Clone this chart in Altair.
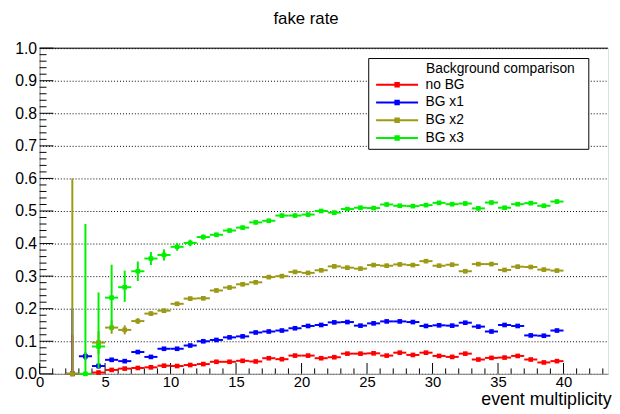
import altair as alt
import pandas as pd

# ---------------- data ----------------
bin_centers = [2.5, 3.5, 4.5, 5.5, 6.5, 7.5, 8.5, 9.5, 10.5, 11.5, 12.5, 13.5, 14.5,
               15.5, 16.5, 17.5, 18.5, 19.5, 20.5, 21.5, 22.5, 23.5, 24.5, 25.5, 26.5,
               27.5, 28.5, 29.5, 30.5, 31.5, 32.5, 33.5, 34.5, 35.5, 36.5, 37.5, 38.5, 39.5]

series_names = ["no BG", "BG x1", "BG x2", "BG x3"]
series_colors = ["#ff0000", "#0000ff", "#9c9a14", "#00f000"]

no_bg = [0.0, None, 0.004, 0.012, 0.016, 0.018, 0.020, 0.025, 0.024, 0.027, 0.030, 0.037, 0.037,
         0.040, 0.038, 0.048, 0.045, 0.056, 0.056, 0.048, 0.051, 0.062, 0.062, 0.063, 0.056,
         0.065, 0.058, 0.065, 0.055, 0.052, 0.062, 0.044, 0.049, 0.050, 0.055, 0.044, 0.035, 0.039]
no_bg_up = [0.12, 0, 0.006, 0.005, 0.004, 0.004, 0.004, 0.004, 0.004, 0.004, 0.004, 0.004, 0.004,
            0.004, 0.004, 0.004, 0.004, 0.004, 0.004, 0.004, 0.004, 0.004, 0.004, 0.004, 0.004,
            0.004, 0.004, 0.004, 0.004, 0.004, 0.004, 0.004, 0.004, 0.004, 0.004, 0.004, 0.004, 0.004]
no_bg_dn = [0.0, 0, 0.004, 0.005, 0.004, 0.004, 0.004, 0.004, 0.004, 0.004, 0.004, 0.004, 0.004,
            0.004, 0.004, 0.004, 0.004, 0.004, 0.004, 0.004, 0.004, 0.004, 0.004, 0.004, 0.004,
            0.004, 0.004, 0.004, 0.004, 0.004, 0.004, 0.004, 0.004, 0.004, 0.004, 0.004, 0.004, 0.004]

bg_x1 = [0.0, 0.054, 0.024, 0.043, 0.039, 0.067, 0.052, 0.077, 0.077, 0.087, 0.100, 0.104, 0.112,
         0.115, 0.127, 0.130, 0.133, 0.140, 0.147, 0.150, 0.158, 0.159, 0.148, 0.155, 0.161,
         0.161, 0.159, 0.147, 0.149, 0.148, 0.157, 0.145, 0.130, 0.150, 0.147, 0.118, 0.117, 0.133]
bg_x1_up = [0.20, 0.012, 0.008, 0.006, 0.006, 0.005, 0.005, 0.005, 0.005, 0.005, 0.005, 0.005, 0.005,
            0.005, 0.005, 0.005, 0.005, 0.005, 0.005, 0.005, 0.005, 0.005, 0.005, 0.005, 0.005,
            0.005, 0.005, 0.005, 0.005, 0.005, 0.005, 0.005, 0.005, 0.005, 0.005, 0.005, 0.005, 0.005]
bg_x1_dn = [0.0, 0.012, 0.008, 0.006, 0.006, 0.005, 0.005, 0.005, 0.005, 0.005, 0.005, 0.005, 0.005,
            0.005, 0.005, 0.005, 0.005, 0.005, 0.005, 0.005, 0.005, 0.005, 0.005, 0.005, 0.005,
            0.005, 0.005, 0.005, 0.005, 0.005, 0.005, 0.005, 0.005, 0.005, 0.005, 0.005, 0.005, 0.005]

bg_x2 = [0.0, None, 0.096, 0.142, 0.135, 0.162, 0.185, 0.194, 0.215, 0.231, 0.232, 0.256, 0.265,
         0.275, 0.281, 0.297, 0.300, 0.313, 0.310, 0.318, 0.330, 0.326, 0.323, 0.334, 0.332,
         0.336, 0.334, 0.346, 0.332, 0.335, 0.315, 0.337, 0.337, 0.319, 0.329, 0.328, 0.320, 0.317]
bg_x2_up = [0.60, 0, 0.035, 0.022, 0.014, 0.009, 0.007, 0.006, 0.006, 0.006, 0.006, 0.006, 0.006,
            0.006, 0.006, 0.006, 0.006, 0.006, 0.006, 0.006, 0.006, 0.006, 0.006, 0.006, 0.006,
            0.006, 0.006, 0.006, 0.006, 0.006, 0.006, 0.006, 0.006, 0.006, 0.006, 0.006, 0.006, 0.006]
bg_x2_dn = [0.0, 0, 0.035, 0.019, 0.014, 0.009, 0.007, 0.006, 0.006, 0.006, 0.006, 0.006, 0.006,
            0.006, 0.006, 0.006, 0.006, 0.006, 0.006, 0.006, 0.006, 0.006, 0.006, 0.006, 0.006,
            0.006, 0.006, 0.006, 0.006, 0.006, 0.006, 0.006, 0.006, 0.006, 0.006, 0.006, 0.006, 0.006]

bg_x3 = [None, 0.0, 0.084, 0.234, 0.266, 0.315, 0.354, 0.365, 0.390, 0.402, 0.420, 0.427, 0.440,
         0.449, 0.465, 0.470, 0.486, 0.486, 0.489, 0.500, 0.495, 0.506, 0.510, 0.509, 0.520,
         0.516, 0.515, 0.518, 0.525, 0.521, 0.523, 0.508, 0.526, 0.510, 0.521, 0.524, 0.516, 0.529]
bg_x3_up = [0, 0.46, 0.166, 0.101, 0.051, 0.030, 0.020, 0.017, 0.012, 0.010, 0.008, 0.006, 0.006,
            0.006, 0.006, 0.006, 0.006, 0.006, 0.006, 0.006, 0.006, 0.006, 0.006, 0.006, 0.006,
            0.006, 0.006, 0.006, 0.006, 0.006, 0.006, 0.006, 0.006, 0.006, 0.006, 0.006, 0.006, 0.006]
bg_x3_dn = [0, 0.0, 0.067, 0.101, 0.045, 0.030, 0.020, 0.017, 0.012, 0.010, 0.008, 0.006, 0.006,
            0.006, 0.006, 0.006, 0.006, 0.006, 0.006, 0.006, 0.006, 0.006, 0.006, 0.006, 0.006,
            0.006, 0.006, 0.006, 0.006, 0.006, 0.006, 0.006, 0.006, 0.006, 0.006, 0.006, 0.006, 0.006]

x_tick_labels = [0, 5, 10, 15, 20, 25, 30, 35, 40]
y_tick_labels = [0.0, 0.1, 0.2, 0.3, 0.4, 0.5, 0.6, 0.7, 0.8, 0.9, 1.0]

# ---------------- layout / style ----------------
W, H = 576, 330
X_MAX = 43.4
FONT = "Liberation Sans"
BIN_HALF = 0.5

xscale = alt.Scale(domain=[0, X_MAX], nice=False, zero=False)
yscale = alt.Scale(domain=[0, 1], nice=False, zero=False)

xaxis = alt.Axis(values=x_tick_labels, ticks=False, grid=False, labelPadding=1,
                 labelFontSize=15, title="event multiplicity", titleFontSize=18,
                 titleFontWeight="normal", titleAnchor="end", titleAlign="right",
                 titleX=W + 3, titleY=31, titleBaseline="alphabetic", labelFlush=False)
yaxis = alt.Axis(values=y_tick_labels, format=".1f", ticks=False, grid=True,
                 gridDash=[1, 2], gridColor="#000000", gridWidth=1, labelPadding=3,
                 labelFontSize=16, title=None)

all_series = [
    (no_bg, no_bg_up, no_bg_dn),
    (bg_x1, bg_x1_up, bg_x1_dn),
    (bg_x2, bg_x2_up, bg_x2_dn),
    (bg_x3, bg_x3_up, bg_x3_dn),
]

legend_path = ("M-1,-0.2L7.5,-0.2L7.5,0.2L-1,0.2Z "
               "M2.7,-0.55L3.8,-0.55L3.8,0.55L2.7,0.55Z")

BLANK = "\u2800"
color = alt.Color("series:N",
                  scale=alt.Scale(domain=series_names, range=series_colors),
                  legend=alt.Legend(orient="none", legendX=333, legendY=10,
                                    title=BLANK * 5 + "\u00a0Background comparison" + BLANK * 1,
                                    titleFontSize=14, titleFont=FONT, titleFontWeight="normal",
                                    titleColor="black", titlePadding=2, titleLimit=400,
                                    labelFontSize=14, labelFont=FONT, labelColor="black",
                                    labelOffset=38, symbolType=legend_path, symbolSize=100,
                                    symbolOffset=2,
                                    symbolStrokeWidth=0, symbolOpacity=1, rowPadding=4,
                                    fillColor="white", strokeColor="black", padding=4,
                                    cornerRadius=0))

layers = []

# axis tick marks drawn inward (ROOT style)
y_major = pd.DataFrame({"v": y_tick_labels})
y_minor = pd.DataFrame({"v": [round(i * 0.02, 2) for i in range(1, 50) if i % 5 != 0]})
x_major = pd.DataFrame({"v": x_tick_labels})
x_minor = pd.DataFrame({"v": [i for i in range(1, 44) if i % 5 != 0]})

def yt(df, length):
    return alt.Chart(df).mark_rule(color="black", strokeWidth=1).encode(
        y=alt.Y("v:Q", scale=yscale, axis=yaxis),
        x=alt.X(datum=0, scale=xscale, axis=xaxis),
        x2=alt.X2(datum=length),
    )

def xt(df, length):
    return alt.Chart(df).mark_rule(color="black", strokeWidth=1).encode(
        x=alt.X("v:Q", scale=xscale, axis=xaxis),
        y=alt.Y(datum=0, scale=yscale, axis=yaxis),
        y2=alt.Y2(datum=length),
    )

layers += [yt(y_major, 14 / W * X_MAX), yt(y_minor, 7 / W * X_MAX),
           xt(x_major, 11 / H), xt(x_minor, 5.5 / H)]

# top frame line
layers.append(alt.Chart(pd.DataFrame({"v": [1.0]})).mark_rule(color="black", strokeWidth=1).encode(
    y=alt.Y("v:Q", scale=yscale, axis=yaxis)))

for name, col, (vals, ups, dns) in zip(series_names, series_colors, all_series):
    rows = []
    for c, v, u, d in zip(bin_centers, vals, ups, dns):
        if v is None:
            continue
        rows.append({"series": name, "x": c, "xlo": c - BIN_HALF, "xhi": c + BIN_HALF,
                     "value": v, "lo": v - d, "hi": v + u})
    df = pd.DataFrame(rows)
    base = alt.Chart(df)
    vrule = base.mark_rule(color=col, strokeWidth=2).encode(
        x=alt.X("x:Q", scale=xscale, axis=xaxis),
        y=alt.Y("lo:Q", scale=yscale, axis=yaxis),
        y2="hi:Q")
    hrule = base.mark_rule(color=col, strokeWidth=2).encode(
        x=alt.X("xlo:Q", scale=xscale, axis=xaxis),
        x2="xhi:Q",
        y=alt.Y("value:Q", scale=yscale, axis=yaxis))
    pts = base.mark_square(size=22, opacity=1, filled=True).encode(
        x=alt.X("x:Q", scale=xscale, axis=xaxis),
        y=alt.Y("value:Q", scale=yscale, axis=yaxis),
        color=color)
    layers += [vrule, hrule, pts]

chart = alt.layer(*layers).properties(
    width=W, height=H,
    padding={"left": 32, "top": 38, "right": 4, "bottom": 38},
    autosize=alt.AutoSizeParams(type="none"),
    title=alt.TitleParams("fake rate", fontSize=17, font=FONT, fontWeight="normal",
                          color="black", anchor="middle", frame="group", dx=-18,
                          offset=12),
).configure_view(stroke=None).configure_axis(
    domainColor="black", domainWidth=1, labelFont=FONT, labelColor="black",
    titleFont=FONT, titleColor="black"
).configure(background="white")

chart.save("out.html", embed_options={"renderer": "svg", "actions": False})
